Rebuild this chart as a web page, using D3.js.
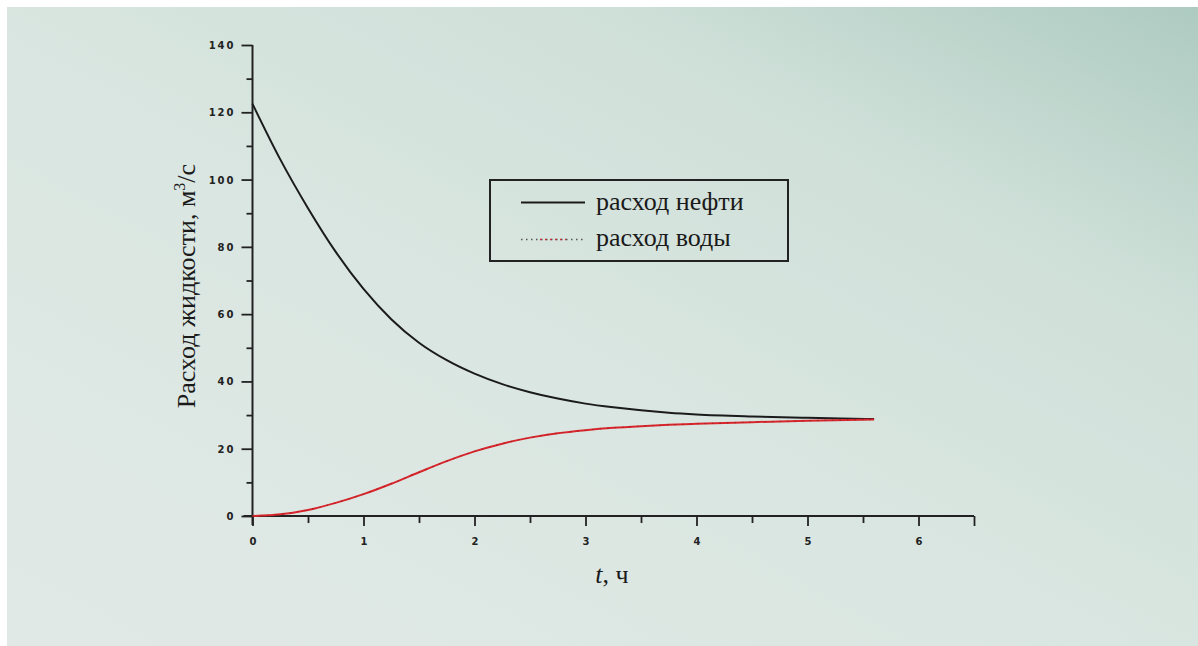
<!DOCTYPE html>
<html><head><meta charset="utf-8">
<script src="https://cdn.jsdelivr.net/npm/d3@7"></script>
<style>html,body{margin:0;padding:0;background:#fff;}svg{display:block;}</style>
</head><body>
<script>
// ---- data ----
const oilT   = [0, 0.25, 0.5, 0.75, 1, 1.25, 1.5, 1.75, 2, 2.25, 2.5, 2.75, 3, 3.25, 3.5, 3.75, 4, 4.5, 5, 5.3, 5.6];
const oilV   = [122.5, 106, 91.5, 78.5, 67.5, 58.5, 51.5, 46.3, 42.3, 39.2, 36.8, 34.9, 33.4, 32.3, 31.4, 30.7, 30.2, 29.6, 29.2, 29.0, 28.8];
const waterT = [0, 0.25, 0.5, 0.75, 1, 1.25, 1.5, 1.75, 2, 2.25, 2.5, 2.75, 3, 3.25, 3.5, 3.75, 4, 4.5, 5, 5.6];
const waterV = [0, 0.5, 1.8, 3.9, 6.5, 9.6, 13.0, 16.3, 19.2, 21.5, 23.3, 24.6, 25.5, 26.2, 26.7, 27.1, 27.4, 27.9, 28.3, 28.7];
const xTicks = [0, 1, 2, 3, 4, 5, 6];
const yTicks = [0, 20, 40, 60, 80, 100, 120, 140];
const seriesNames = ["расход нефти", "расход воды"];
const yTitle = "Расход жидкости, м";
const xTitleItalic = "t";
const xTitleRest = ", ч";

const W = 1198, H = 646;
const svg = d3.select("body").append("svg").attr("width", W).attr("height", H);
const defs = svg.append("defs");
const grad = defs.append("linearGradient").attr("id","bg")
  .attr("x1","0%").attr("y1","100%").attr("x2","100%").attr("y2","0%");
[[0,"#e1e9e6"],[0.45,"#dae6e1"],[0.75,"#cfe0d9"],[1,"#aecbc1"]].forEach(([o,c])=>
  grad.append("stop").attr("offset",o).attr("stop-color",c));
svg.append("rect").attr("x",7).attr("y",7).attr("width",W-7).attr("height",H-7).attr("fill","url(#bg)");

const x = d3.scaleLinear().domain([0, 6.5]).range([252.5, 974]);
const y = d3.scaleLinear().domain([0, 140]).range([516, 45]);

const tickFont = "'DejaVu Sans', sans-serif";

// y axis
const yAxis = svg.append("g").attr("transform", `translate(${x(0)},0)`)
  .call(d3.axisLeft(y).tickValues(d3.range(0, 141, 10)).tickSize(0).tickFormat(""));
yAxis.select(".domain").attr("stroke","#222").attr("stroke-width",2).attr("d", `M0,${y(140)}V${y(0)+9}`);
yAxis.selectAll(".tick line").remove();
yAxis.selectAll(".tick").append("line")
  .attr("x2", d => d % 20 === 0 ? -11 : -6).attr("stroke","#222").attr("stroke-width",1.8);
yAxis.selectAll(".tick").filter(d => yTicks.includes(d)).append("text")
  .attr("x",-17).attr("dy","0.35em").attr("text-anchor","end")
  .style("font-family",tickFont).style("font-size","10px").style("font-weight","bold")
  .style("letter-spacing","2px").attr("fill","#222").text(d => d);

// x axis
const xAxis = svg.append("g").attr("transform", `translate(0,${y(0)})`)
  .call(d3.axisBottom(x).tickValues(d3.range(0, 6.51, 0.5)).tickSize(0).tickFormat(""));
xAxis.select(".domain").attr("stroke","#222").attr("stroke-width",2).attr("d", `M${x(0)-9},0H${x(6.5)}`);
xAxis.selectAll(".tick line").remove();
xAxis.selectAll(".tick").append("line")
  .attr("y2", d => Number.isInteger(d) || d === 6.5 ? 10 : 7).attr("stroke","#222").attr("stroke-width",1.8);
xAxis.selectAll(".tick").filter(d => xTicks.includes(d)).append("text")
  .attr("y",29).attr("text-anchor","middle")
  .style("font-family",tickFont).style("font-size","10px").style("font-weight","bold")
  .attr("fill","#222").text(d => d);

// titles
const serif = "'Liberation Serif', 'Times New Roman', serif";
const yt = svg.append("text").attr("transform", `translate(195,${286}) rotate(-90)`)
  .attr("text-anchor","middle").style("font-family",serif).style("font-size","26px").attr("fill","#1a1a1a");
yt.append("tspan").text(yTitle);
yt.append("tspan").attr("dy","-10").style("font-size","16px").text("3");
yt.append("tspan").attr("dy","10").text("/с");

const xt = svg.append("text").attr("x", 612).attr("y", 583).attr("text-anchor","middle")
  .style("font-family",serif).style("font-size","26px").attr("fill","#1a1a1a");
xt.append("tspan").style("font-style","italic").text(xTitleItalic);
xt.append("tspan").text(xTitleRest);

// lines
const line = d3.line().x(d => x(d[0])).y(d => y(d[1])).curve(d3.curveMonotoneX);
const oil = oilT.map((t,i)=>[t, oilV[i]]);
const water = waterT.map((t,i)=>[t, waterV[i]]);
svg.append("path").attr("d", line(oil)).attr("fill","none").attr("stroke","#1b1b1b").attr("stroke-width",2);
svg.append("path").attr("d", line(water)).attr("fill","none").attr("stroke","#d8262c").attr("stroke-width",2);
svg.append("path").attr("d", line(water)).attr("fill","none").attr("stroke","#8a1a22").attr("stroke-width",1.2)
  .attr("stroke-dasharray","1.5,6").attr("opacity",0.6);

// legend
const lg = svg.append("g");
lg.append("rect").attr("x",490).attr("y",180).attr("width",298).attr("height",81)
  .attr("fill","none").attr("stroke","#222").attr("stroke-width",2);
lg.append("line").attr("x1",521).attr("x2",585).attr("y1",202.5).attr("y2",202.5).attr("stroke","#1b1b1b").attr("stroke-width",2);
lg.append("line").attr("x1",521).attr("x2",585).attr("y1",239.5).attr("y2",239.5).attr("stroke","#555").attr("stroke-width",1.5).attr("stroke-dasharray","1.5,3.5");
lg.append("line").attr("x1",540).attr("x2",566).attr("y1",239.5).attr("y2",239.5).attr("stroke","#d8262c").attr("stroke-width",1.5).attr("stroke-dasharray","1.5,3.5");
lg.selectAll("text.lt").data(seriesNames).join("text").attr("class","lt")
  .attr("x",596).attr("y",(d,i)=> i===0 ? 210 : 246)
  .style("font-family",serif).style("font-size","26px").attr("fill","#1a1a1a").text(d=>d);
</script>
</body></html>
